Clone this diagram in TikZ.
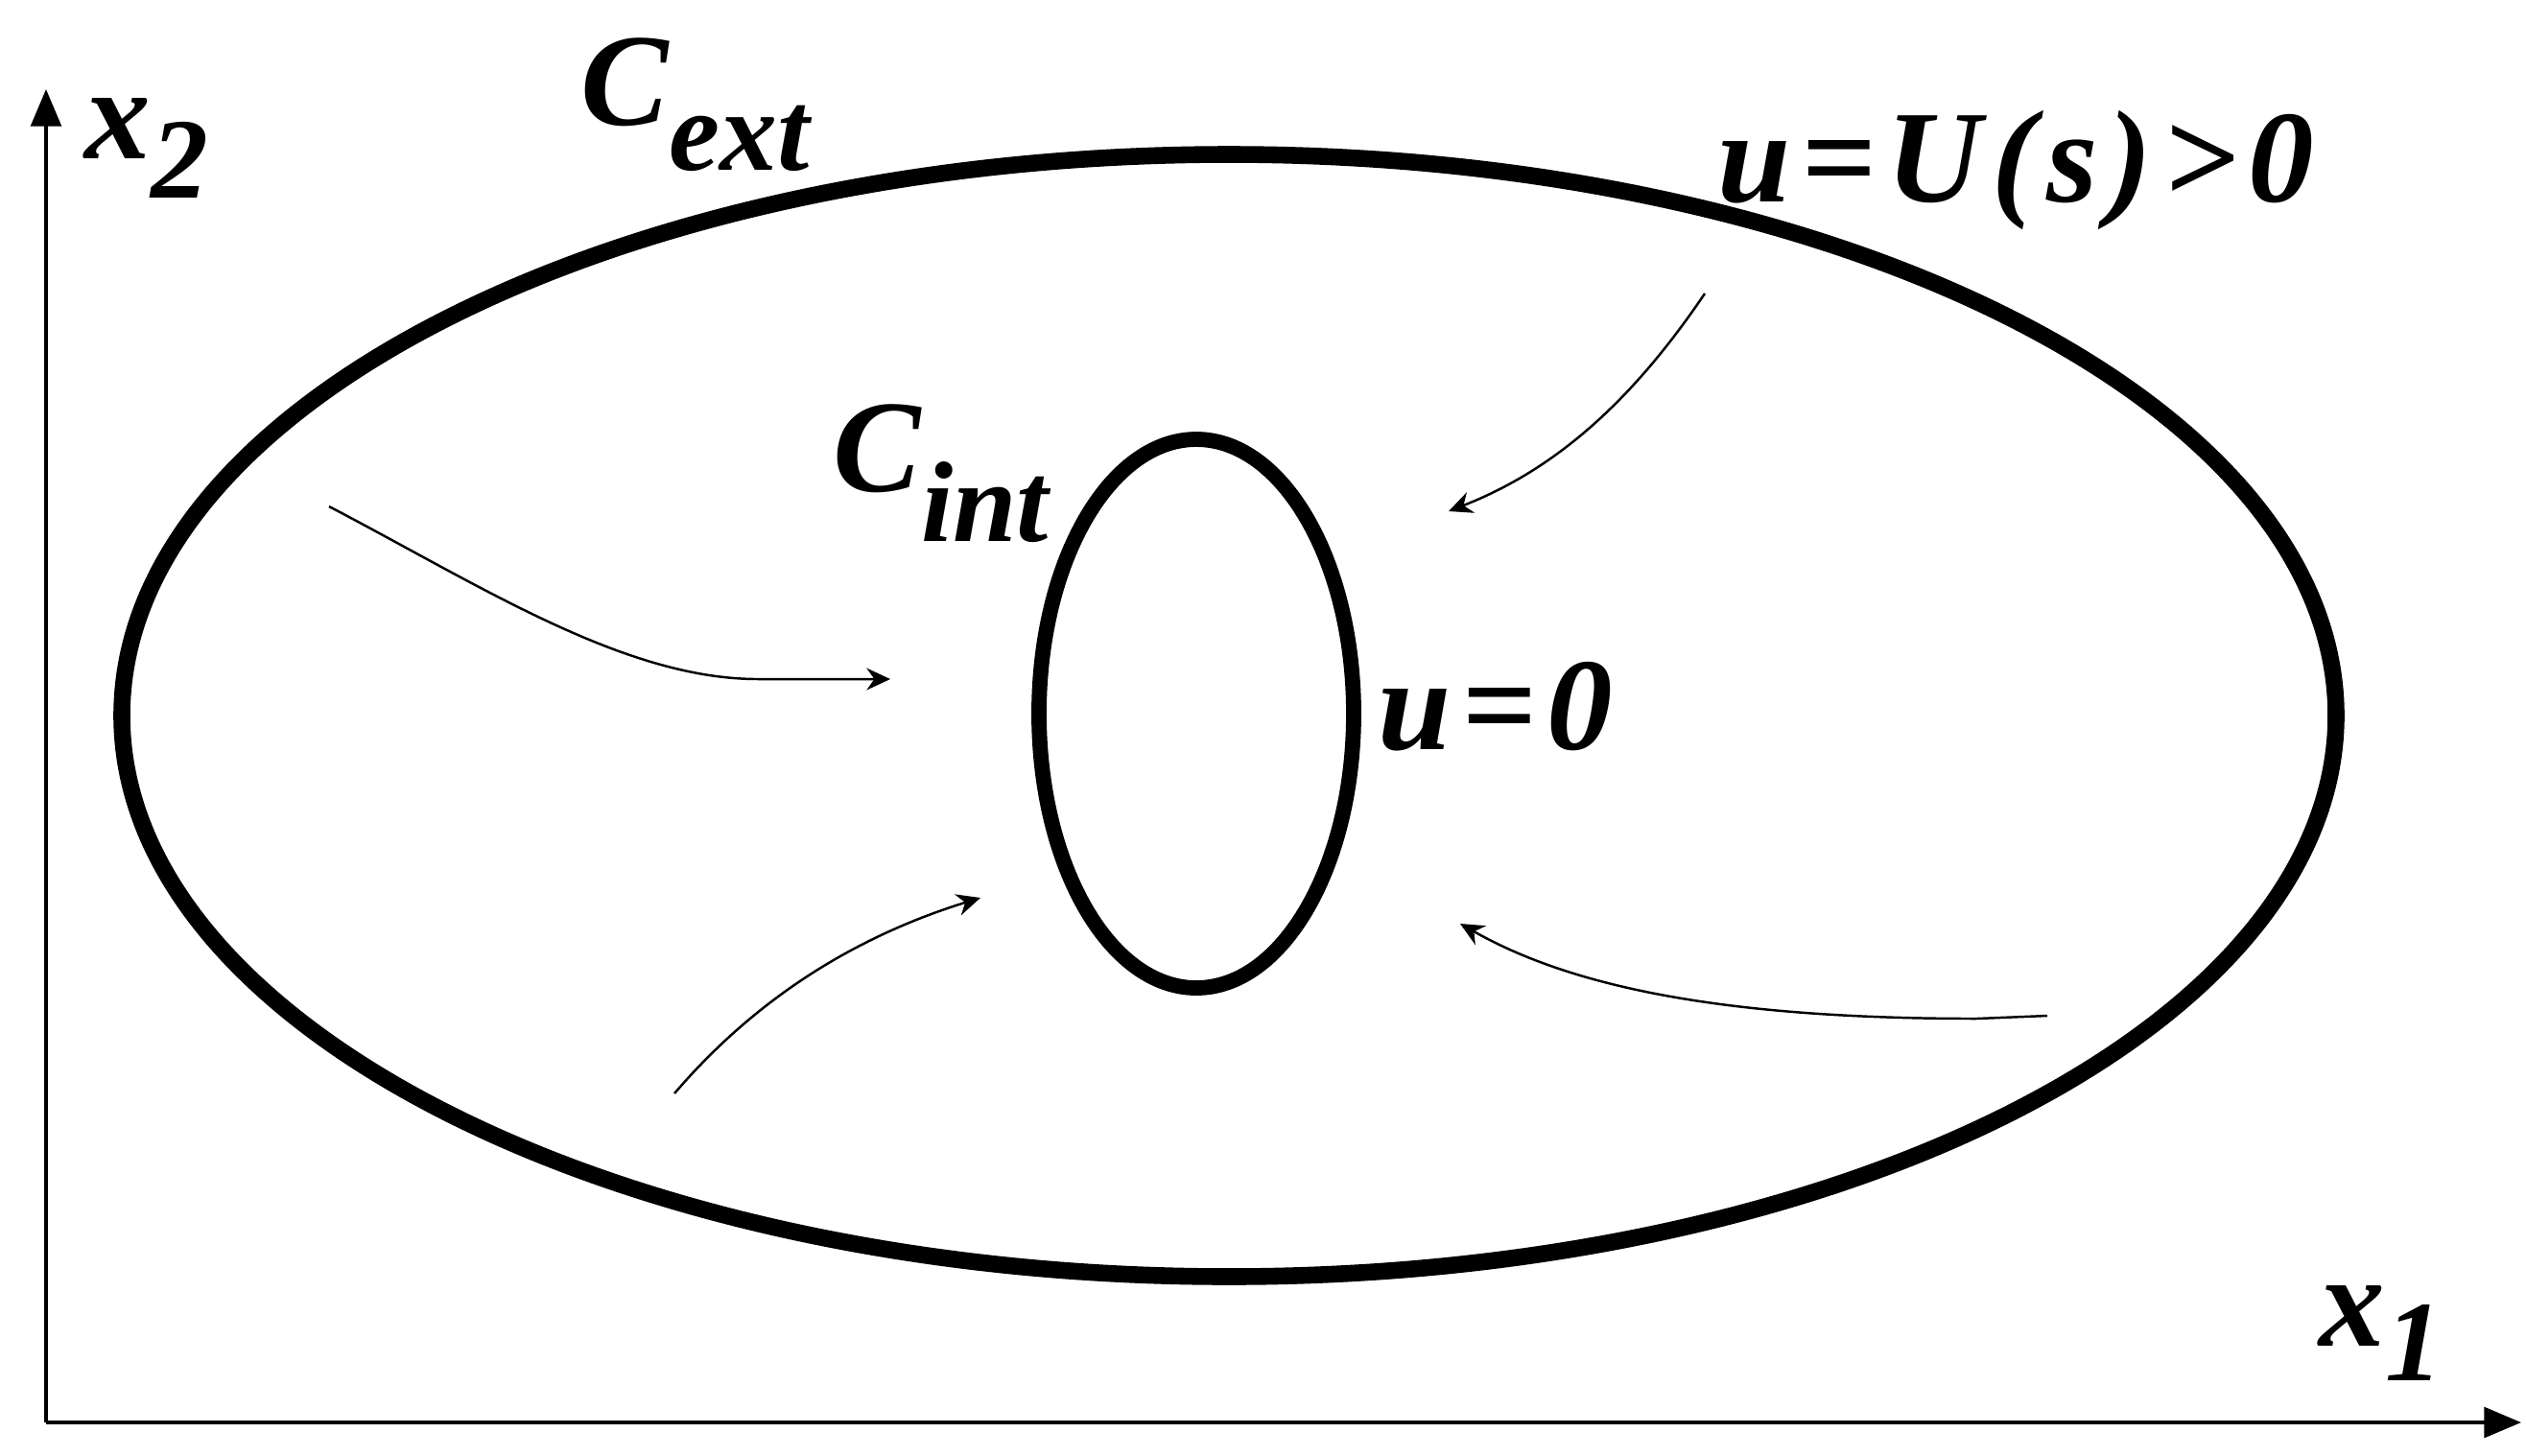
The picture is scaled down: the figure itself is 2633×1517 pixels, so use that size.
\documentclass[tikz,border=0pt]{standalone}
\usepackage{fontspec}
\setmainfont{Liberation Serif}
\usetikzlibrary{arrows.meta}

\newcommand\lowsub[2][0.44cm]{\raisebox{-#1}{\fontsize{34}{34}\selectfont #2}}

\tikzset{
  mathlabel/.style={anchor=base west,inner sep=0pt,font=\fontsize{39}{40}\selectfont\bfseries\itshape},
  axis/.style={line width=1.1pt,-{Triangle[length=11pt,width=9pt]}},
  boundary/.style={line width=5pt},
  flow/.style={line width=0.7pt,-{Stealth[length=7pt,width=6.5pt]}}
}

\begin{document}
\begin{tikzpicture}[x=0.01cm,y=-0.01cm]
\useasboundingbox (0,0) rectangle (2633,1517);

% axes
\coordinate (O) at (48,1483);
\coordinate (x1end) at (2628,1483);
\coordinate (x2end) at (48,93);
\draw[axis] (O) -- (x1end);
\draw[axis] (O) -- (x2end);
\node[mathlabel] (x1) at (2417,1403) {x\lowsub[0.36cm]{1}};
\node[mathlabel] (x2) at (88,165) {x\lowsub[0.41cm]{2}};

% the two contours
\coordinate (cext) at (1281,746);
\coordinate (cint) at (1247,744);
\draw[boundary] (cext) ellipse [x radius=1154, y radius=585];
\draw[boundary,line width=4.5pt] (cint) ellipse [x radius=164, y radius=286];

\node[mathlabel] (Cext) at (605,130) {C\lowsub[0.47cm]{ext}};
\node[mathlabel] (Cint) at (868,512) {C\lowsub[0.52cm]{int}};
\node[mathlabel] (Uext) at (1790,210) {\addfontfeature{LetterSpace=8}u=U(s)>0};
\node[mathlabel] (Uint) at (1436,781) {\addfontfeature{LetterSpace=8}u=0};

% flow lines
\coordinate (a1) at (343,528);
\coordinate (b1) at (928,708);
\coordinate (a2) at (1777,306);
\coordinate (b2) at (1510,533);
\coordinate (a3) at (703,1140);
\coordinate (b3) at (1022,936);
\coordinate (a4) at (2134,1059);
\coordinate (b4) at (1522,963);

\draw[flow] (a1) .. controls (500,610) and (650,708) .. (790,708) -- (b1);
\draw[flow] (a2) .. controls (1700,420) and (1620,490) .. (b2);
\draw[flow] (a3) .. controls (780,1050) and (880,980) .. (b3);
\draw[flow] (a4) -- (2060,1062) .. controls (1800,1062) and (1640,1030) .. (b4);

\end{tikzpicture}
\end{document}
